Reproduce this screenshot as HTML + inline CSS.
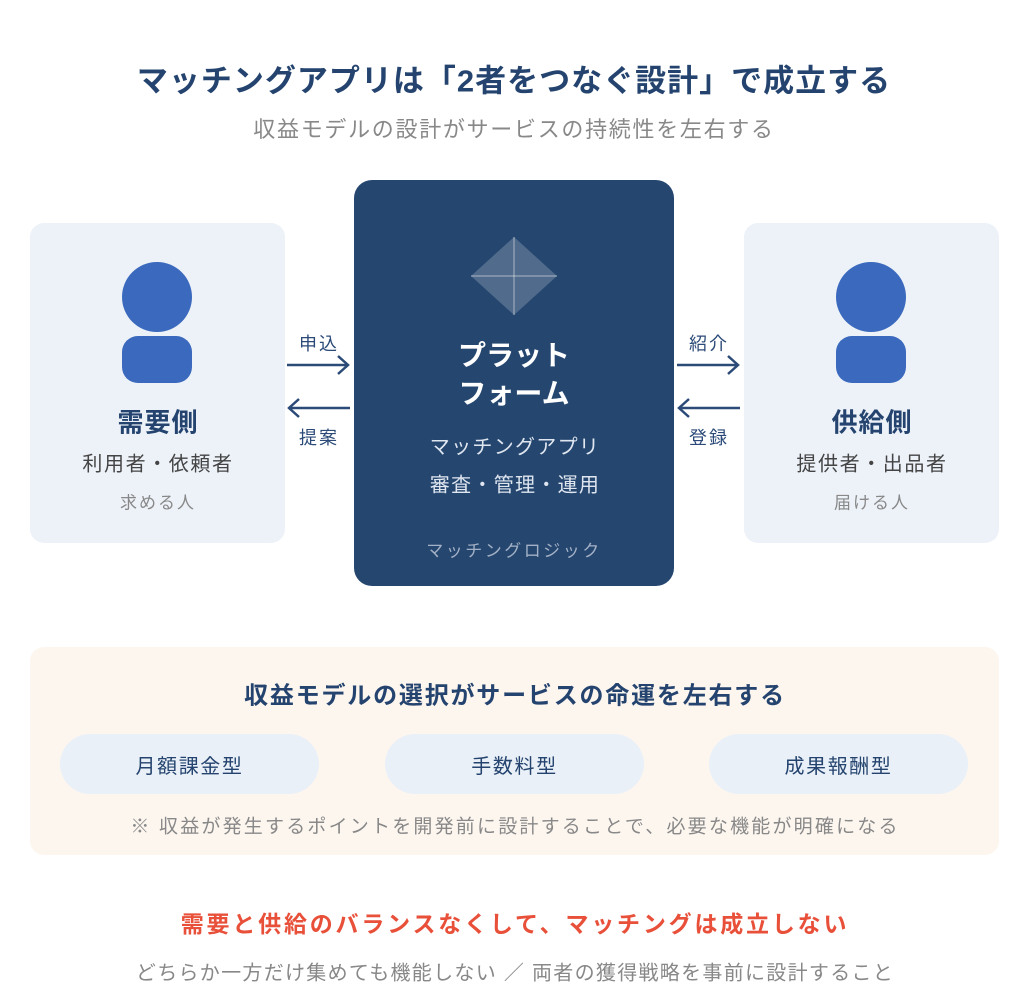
<!DOCTYPE html>
<html><head><meta charset="utf-8"><style>
body{margin:0;width:1024px;height:1000px;background:#fff;position:relative;overflow:hidden;font-family:"Liberation Sans","Noto Sans CJK JP",sans-serif}
.a{position:absolute;white-space:nowrap}
.c{text-align:center;transform:translate(-50%,-50%)}
.card{position:absolute;background:#edf2f9;border-radius:14px}
.pill{position:absolute;top:734px;width:259px;height:60px;border-radius:30px;background:#eaf0f8;color:#24446f;font-size:20px;letter-spacing:1.6px;line-height:66px;text-align:center}
</style></head><body>
<div class="a c" style="left:514px;top:78px;font-size:31px;letter-spacing:1px;font-weight:bold;color:#24446f">マッチングアプリは「2者をつなぐ設計」で成立する</div>
<div class="a c" style="left:514px;top:128px;font-size:22px;letter-spacing:1.7px;color:#888">収益モデルの設計がサービスの持続性を左右する</div>

<div class="card" style="left:30px;top:223px;width:255px;height:320px"></div>
<div class="card" style="left:744px;top:223px;width:255px;height:320px"></div>
<div class="a" style="left:122px;top:262px;width:70px;height:70px;border-radius:50%;background:#3a69bd"></div>
<div class="a" style="left:122px;top:336px;width:70px;height:47px;border-radius:16px;background:#3a69bd"></div>
<div class="a" style="left:836px;top:262px;width:70px;height:70px;border-radius:50%;background:#3a69bd"></div>
<div class="a" style="left:836px;top:336px;width:70px;height:47px;border-radius:16px;background:#3a69bd"></div>
<div class="a c" style="left:158px;top:421px;font-size:26px;letter-spacing:1px;font-weight:bold;color:#24446f">需要側</div>
<div class="a c" style="left:158px;top:462px;font-size:20px;letter-spacing:1.6px;color:#444">利用者・依頼者</div>
<div class="a c" style="left:158px;top:501px;font-size:17px;letter-spacing:2px;color:#888">求める人</div>
<div class="a c" style="left:872px;top:421px;font-size:26px;letter-spacing:1px;font-weight:bold;color:#24446f">供給側</div>
<div class="a c" style="left:872px;top:462px;font-size:20px;letter-spacing:1.6px;color:#444">提供者・出品者</div>
<div class="a c" style="left:872px;top:501px;font-size:17px;letter-spacing:2px;color:#888">届ける人</div>

<div class="a" style="left:354px;top:180px;width:320px;height:406px;border-radius:18px;background:#25466f"></div>
<svg class="a" style="left:0;top:0" width="1024" height="1000">
<polygon points="514,237 557,276 514,315 471,276" fill="rgba(255,255,255,0.2)"/>
<line x1="514" y1="237" x2="514" y2="315" stroke="rgba(255,255,255,0.35)" stroke-width="1.5"/>
<line x1="471" y1="276" x2="557" y2="276" stroke="rgba(255,255,255,0.35)" stroke-width="1.5"/>
<g stroke="#2b4a78" stroke-width="2.5" fill="none">
<path d="M287 365H348M338 356L348 365L338 374"/>
<path d="M350 408H289M299 399L289 408L299 417"/>
<path d="M677 365H738M728 356L738 365L728 374"/>
<path d="M740 408H679M689 399L679 408L689 417"/>
</g></svg>
<div class="a c" style="left:319px;top:343px;font-size:18px;letter-spacing:2px;color:#2b4a78">申込</div>
<div class="a c" style="left:319px;top:437px;font-size:18px;letter-spacing:2px;color:#2b4a78">提案</div>
<div class="a c" style="left:709px;top:343px;font-size:18px;letter-spacing:2px;color:#2b4a78">紹介</div>
<div class="a c" style="left:709px;top:437px;font-size:18px;letter-spacing:2px;color:#2b4a78">登録</div>
<div class="a c" style="left:514px;top:375px;font-size:28px;font-weight:bold;color:#fff;line-height:38px;text-align:center">プラット<br>フォーム</div>
<div class="a c" style="left:515px;top:445px;font-size:20px;letter-spacing:1.3px;color:#dfe6f0">マッチングアプリ</div>
<div class="a c" style="left:515px;top:483px;font-size:20px;letter-spacing:1.3px;color:#dfe6f0">審査・管理・運用</div>
<div class="a c" style="left:514px;top:549px;font-size:17px;letter-spacing:2.5px;color:#a3b1c6">マッチングロジック</div>

<div class="a" style="left:30px;top:647px;width:969px;height:208px;border-radius:14px;background:#fdf6ef"></div>
<div class="a c" style="left:515px;top:693px;font-size:24px;letter-spacing:1.8px;font-weight:bold;color:#24446f">収益モデルの選択がサービスの命運を左右する</div>
<div class="pill" style="left:60px">月額課金型</div>
<div class="pill" style="left:385px">手数料型</div>
<div class="pill" style="left:709px">成果報酬型</div>
<div class="a c" style="left:515px;top:825px;font-size:19px;letter-spacing:2.2px;color:#888">※ 収益が発生するポイントを開発前に設計することで、必要な機能が明確になる</div>

<div class="a c" style="left:515px;top:922px;font-size:23px;letter-spacing:2.8px;font-weight:bold;color:#e8503a">需要と供給のバランスなくして、マッチングは成立しない</div>
<div class="a c" style="left:515px;top:971px;font-size:20px;letter-spacing:1.3px;color:#888">どちらか一方だけ集めても機能しない ／ 両者の獲得戦略を事前に設計すること</div>
</body></html>
